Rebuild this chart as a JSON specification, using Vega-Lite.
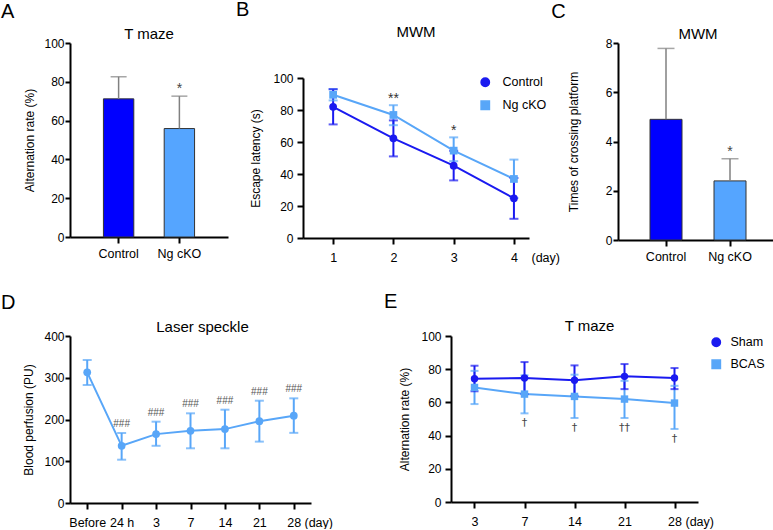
{
  "$schema": "https://vega.github.io/schema/vega-lite/v6.json",
  "padding": {"left": 0, "top": 0, "right": 0, "bottom": 0},
  "config": {
    "font": "Liberation Sans",
    "view": {"stroke": null},
    "axis": {"grid": false, "domainColor": "#000", "domainWidth": 2, "tickColor": "#000", "tickWidth": 2, "labelFontSize": 12, "labelColor": "#000", "titleFontSize": 12, "titleFontWeight": "normal", "titleColor": "#000"},
    "axisY": {"tickSize": 5, "labelPadding": 1},
    "axisX": {"tickSize": 6, "labelAngle": 0, "labelFontSize": 12.5, "labelPadding": 7},
    "title": {"fontSize": 15, "fontWeight": "normal", "color": "#000"}
  },
  "resolve": {"scale": {"color": "independent", "shape": "independent"}},
  "spacing": 28,
  "vconcat": [
    {
      "spacing": 7,
      "resolve": {"scale": {"color": "independent", "shape": "independent"}},
      "hconcat": [
        {
          "title": {"text": "A", "anchor": "start", "frame": "bounds", "fontSize": 20, "dx": -23, "offset": 5},
          "resolve": {"scale": {"color": "independent", "shape": "independent"}},
          "vconcat": [
            {
              "width": 158, "height": 194,
              "title": {"text": "T maze", "offset": -5},
              "data": {"values": [
                {"group": "Control", "mean": 71.2, "upper": 82.6, "sig": ""},
                {"group": "Ng cKO", "mean": 55.9, "upper": 72.6, "sig": "*"}
              ]},
              "encoding": {"x": {"field": "group", "type": "nominal", "sort": null, "scale": {"paddingInner": 0.5, "paddingOuter": 0.55}, "axis": {"title": null, "labelPadding": 4}}},
              "layer": [
                {"mark": {"type": "bar", "stroke": "#333", "strokeWidth": 1},
                 "encoding": {
                   "y": {"field": "mean", "type": "quantitative", "scale": {"domain": [0, 100], "nice": false}, "axis": {"title": "Alternation rate (%)", "values": [0, 20, 40, 60, 80, 100], "titlePadding": 7}},
                   "color": {"field": "group", "type": "nominal", "scale": {"domain": ["Control", "Ng cKO"], "range": ["#0000ff", "#55a5ff"]}, "legend": null}}},
                {"mark": {"type": "rule", "color": "#808080", "strokeWidth": 1.5},
                 "encoding": {"y": {"field": "mean", "type": "quantitative", "axis": {"title": "Alternation rate (%)", "values": [0, 20, 40, 60, 80, 100], "titlePadding": 7}}, "y2": {"field": "upper"}}},
                {"mark": {"type": "tick", "color": "#808080", "thickness": 1.5, "size": 16},
                 "encoding": {"y": {"field": "upper", "type": "quantitative", "axis": {"title": "Alternation rate (%)", "values": [0, 20, 40, 60, 80, 100], "titlePadding": 7}}}},
                {"mark": {"type": "text", "dy": -7, "fontSize": 14, "color": "#444", "baseline": "middle"},
                 "encoding": {"y": {"field": "upper", "type": "quantitative", "axis": {"title": "Alternation rate (%)", "values": [0, 20, 40, 60, 80, 100], "titlePadding": 7}}, "text": {"field": "sig"}}}
              ]
            }
          ]
        },
        {
          "spacing": -9,
          "resolve": {"scale": {"color": "independent", "shape": "independent"}},
          "hconcat": [
            {
              "title": {"text": "B", "anchor": "start", "frame": "bounds", "fontSize": 20, "dx": -14, "offset": 5},
              "spacing": 0,
              "resolve": {"scale": {"color": "independent", "shape": "independent"}},
              "vconcat": [
                {
                  "width": 226, "height": 29,
                  "title": {"text": "MWM", "offset": 3},
                  "data": {"values": []},
                  "mark": "point"
                },
                {
                  "width": 226, "height": 160,
                  "data": {"values": [
                    {"day": 1, "group": "Ng cKO", "mean": 89.5, "lower": 86, "upper": 93, "sig": ""},
                    {"day": 2, "group": "Ng cKO", "mean": 76.9, "lower": 70.5, "upper": 83, "sig": "**"},
                    {"day": 3, "group": "Ng cKO", "mean": 54.6, "lower": 48, "upper": 62.9, "sig": "*"},
                    {"day": 4, "group": "Ng cKO", "mean": 36.9, "lower": 25, "upper": 49, "sig": ""},
                    {"day": 1, "group": "Control", "mean": 82, "lower": 71, "upper": 93, "sig": ""},
                    {"day": 2, "group": "Control", "mean": 62.3, "lower": 51, "upper": 73.5, "sig": ""},
                    {"day": 3, "group": "Control", "mean": 45.2, "lower": 36, "upper": 54.5, "sig": ""},
                    {"day": 4, "group": "Control", "mean": 24.8, "lower": 12, "upper": 37.5, "sig": ""}
                  ]},
                  "encoding": {
                    "x": {"field": "day", "type": "quantitative", "scale": {"domain": [0.5, 4.25], "nice": false, "zero": false},
                          "axis": {"values": [1, 2, 3, 4], "format": "d", "title": "(day)", "titleX": 228, "titleY": 19, "titleAlign": "left", "titleBaseline": "middle", "titleAngle": 0, "titleFontSize": 12.5}},
                    "color": {"field": "group", "type": "nominal", "scale": {"domain": ["Control", "Ng cKO"], "range": ["#1a1af0", "#58a6f8"]},
                              "legend": {"title": null, "orient": "none", "legendX": 176, "legendY": -2, "labelOffset": 11, "rowPadding": 8, "padding": 0, "labelFontSize": 12.5, "labelColor": "#000", "symbolSize": 70, "symbolOpacity": 1}}
                  },
                  "layer": [
                    {"mark": {"type": "line", "strokeWidth": 2},
                     "encoding": {"y": {"field": "mean", "type": "quantitative", "scale": {"domain": [0, 100], "nice": false}, "axis": {"title": "Escape latency (s)", "values": [0, 20, 40, 60, 80, 100], "titlePadding": 10, "labelPadding": 4, "tickSize": 6}}}},
                    {"mark": {"type": "rule", "strokeWidth": 2},
                     "encoding": {"y": {"field": "lower", "type": "quantitative", "axis": {"title": "Escape latency (s)", "values": [0, 20, 40, 60, 80, 100], "titlePadding": 10, "labelPadding": 4, "tickSize": 6}}, "y2": {"field": "upper"}}},
                    {"mark": {"type": "tick", "orient": "horizontal", "thickness": 2, "size": 9},
                     "encoding": {"y": {"field": "upper", "type": "quantitative", "axis": {"title": "Escape latency (s)", "values": [0, 20, 40, 60, 80, 100], "titlePadding": 10, "labelPadding": 4, "tickSize": 6}}}},
                    {"mark": {"type": "tick", "orient": "horizontal", "thickness": 2, "size": 9},
                     "encoding": {"y": {"field": "lower", "type": "quantitative", "axis": {"title": "Escape latency (s)", "values": [0, 20, 40, 60, 80, 100], "titlePadding": 10, "labelPadding": 4, "tickSize": 6}}}},
                    {"mark": {"type": "point", "filled": true, "size": 60, "opacity": 1},
                     "encoding": {"y": {"field": "mean", "type": "quantitative", "axis": {"title": "Escape latency (s)", "values": [0, 20, 40, 60, 80, 100], "titlePadding": 10, "labelPadding": 4, "tickSize": 6}},
                                  "shape": {"field": "group", "type": "nominal", "scale": {"domain": ["Control", "Ng cKO"], "range": ["circle", "square"]}}}},
                    {"mark": {"type": "text", "dy": -6, "fontSize": 14, "baseline": "middle"},
                     "encoding": {"y": {"field": "upper", "type": "quantitative", "axis": {"title": "Escape latency (s)", "values": [0, 20, 40, 60, 80, 100], "titlePadding": 10, "labelPadding": 4, "tickSize": 6}}, "text": {"field": "sig"}, "color": {"value": "#333"}}}
                  ]
                }
              ]
            },
            {
              "title": {"text": "C", "anchor": "start", "frame": "bounds", "fontSize": 20, "dx": -16, "offset": 5},
              "resolve": {"scale": {"color": "independent", "shape": "independent"}},
              "vconcat": [
                {
                  "width": 160, "height": 197,
                  "title": {"text": "MWM", "offset": -8},
                  "data": {"values": [
                    {"group": "Control", "mean": 4.9, "upper": 7.78, "sig": ""},
                    {"group": "Ng cKO", "mean": 2.4, "upper": 3.3, "sig": "*"}
                  ]},
                  "encoding": {"x": {"field": "group", "type": "nominal", "sort": null, "scale": {"paddingInner": 0.5, "paddingOuter": 0.5}, "axis": {"title": null, "labelPadding": 4}}},
                  "layer": [
                    {"mark": {"type": "bar", "stroke": "#333", "strokeWidth": 1},
                     "encoding": {
                       "y": {"field": "mean", "type": "quantitative", "scale": {"domain": [0, 8], "nice": false}, "axis": {"title": "Times of crossing platform", "values": [0, 2, 4, 6, 8], "titlePadding": 25}},
                       "color": {"field": "group", "type": "nominal", "scale": {"domain": ["Control", "Ng cKO"], "range": ["#0000ff", "#55a5ff"]}, "legend": null}}},
                    {"mark": {"type": "rule", "color": "#808080", "strokeWidth": 1.5},
                     "encoding": {"y": {"field": "mean", "type": "quantitative", "axis": {"title": "Times of crossing platform", "values": [0, 2, 4, 6, 8], "titlePadding": 25}}, "y2": {"field": "upper"}}},
                    {"mark": {"type": "tick", "color": "#808080", "thickness": 1.5, "size": 17},
                     "encoding": {"y": {"field": "upper", "type": "quantitative", "axis": {"title": "Times of crossing platform", "values": [0, 2, 4, 6, 8], "titlePadding": 25}}}},
                    {"mark": {"type": "text", "dy": -7, "fontSize": 14, "color": "#444", "baseline": "middle"},
                     "encoding": {"y": {"field": "upper", "type": "quantitative", "axis": {"title": "Times of crossing platform", "values": [0, 2, 4, 6, 8], "titlePadding": 25}}, "text": {"field": "sig"}}}
                  ]
                }
              ]
            }
          ]
        }
      ]
    },
    {
      "spacing": 50,
      "resolve": {"scale": {"color": "independent", "shape": "independent"}},
      "hconcat": [
        {
          "title": {"text": "D", "anchor": "start", "frame": "bounds", "fontSize": 20, "dx": -22, "offset": 7},
          "resolve": {"scale": {"color": "independent", "shape": "independent"}},
          "vconcat": [
            {
              "width": 241, "height": 167,
              "title": {"text": "Laser speckle", "offset": -5, "dx": 12},
              "data": {"values": [
                {"time": "Before", "mean": 313, "lower": 282.6, "upper": 342.5, "sig": ""},
                {"time": "24 h", "mean": 137, "lower": 103.7, "upper": 167.7, "sig": "###"},
                {"time": "3", "mean": 165, "lower": 137, "upper": 194.8, "sig": "###"},
                {"time": "7", "mean": 173, "lower": 131, "upper": 214.8, "sig": "###"},
                {"time": "14", "mean": 177, "lower": 131, "upper": 223.5, "sig": "###"},
                {"time": "21", "mean": 196, "lower": 147, "upper": 245, "sig": "###"},
                {"time": "28", "mean": 209, "lower": 168, "upper": 250.7, "sig": "###"}
              ]},
              "encoding": {"x": {"field": "time", "type": "ordinal", "sort": null, "scale": {"type": "point", "padding": 0.5},
                                 "axis": {"title": "(day)", "titleX": 234, "titleY": 19, "titleAlign": "left", "titleBaseline": "middle", "titleAngle": 0, "titleFontSize": 12.5}}},
              "layer": [
                {"mark": {"type": "line", "strokeWidth": 2, "color": "#58a6f8"},
                 "encoding": {"y": {"field": "mean", "type": "quantitative", "scale": {"domain": [0, 400], "nice": false}, "axis": {"title": "Blood perfusion (PU)", "values": [0, 100, 200, 300, 400], "titlePadding": 8}}}},
                {"mark": {"type": "rule", "strokeWidth": 2, "color": "#58a6f8"},
                 "encoding": {"y": {"field": "lower", "type": "quantitative", "axis": {"title": "Blood perfusion (PU)", "values": [0, 100, 200, 300, 400], "titlePadding": 8}}, "y2": {"field": "upper"}}},
                {"mark": {"type": "tick", "orient": "horizontal", "thickness": 2, "size": 9, "color": "#58a6f8"},
                 "encoding": {"y": {"field": "upper", "type": "quantitative", "axis": {"title": "Blood perfusion (PU)", "values": [0, 100, 200, 300, 400], "titlePadding": 8}}}},
                {"mark": {"type": "tick", "orient": "horizontal", "thickness": 2, "size": 9, "color": "#58a6f8"},
                 "encoding": {"y": {"field": "lower", "type": "quantitative", "axis": {"title": "Blood perfusion (PU)", "values": [0, 100, 200, 300, 400], "titlePadding": 8}}}},
                {"mark": {"type": "point", "filled": true, "size": 60, "opacity": 1, "shape": "circle", "color": "#58a6f8"},
                 "encoding": {"y": {"field": "mean", "type": "quantitative", "axis": {"title": "Blood perfusion (PU)", "values": [0, 100, 200, 300, 400], "titlePadding": 8}}}},
                {"mark": {"type": "text", "dy": -9, "fontSize": 10, "color": "#555", "baseline": "middle"},
                 "encoding": {"y": {"field": "upper", "type": "quantitative", "axis": {"title": "Blood perfusion (PU)", "values": [0, 100, 200, 300, 400], "titlePadding": 8}}, "text": {"field": "sig"}}}
              ]
            }
          ]
        },
        {
          "title": {"text": "E", "anchor": "start", "frame": "bounds", "fontSize": 20, "dx": -15, "offset": 7},
          "resolve": {"scale": {"color": "independent", "shape": "independent"}},
          "vconcat": [
            {
              "width": 247, "height": 166,
              "title": {"text": "T maze", "offset": -4, "dx": 15},
              "data": {"values": [
                {"day": "3", "group": "BCAS", "mean": 69, "lower": 59, "upper": 79, "sig": ""},
                {"day": "7", "group": "BCAS", "mean": 65, "lower": 53.4, "upper": 76.3, "sig": "†"},
                {"day": "14", "group": "BCAS", "mean": 63.6, "lower": 50.6, "upper": 76.7, "sig": "†"},
                {"day": "21", "group": "BCAS", "mean": 62, "lower": 50.6, "upper": 73, "sig": "††"},
                {"day": "28", "group": "BCAS", "mean": 59.6, "lower": 44, "upper": 70, "sig": "†"},
                {"day": "3", "group": "Sham", "mean": 74.3, "lower": 66.7, "upper": 82.1, "sig": ""},
                {"day": "7", "group": "Sham", "mean": 74.7, "lower": 65, "upper": 84.3, "sig": ""},
                {"day": "14", "group": "Sham", "mean": 73.3, "lower": 64, "upper": 82.3, "sig": ""},
                {"day": "21", "group": "Sham", "mean": 75.7, "lower": 68, "upper": 83.1, "sig": ""},
                {"day": "28", "group": "Sham", "mean": 74.7, "lower": 68, "upper": 80.7, "sig": ""}
              ]},
              "encoding": {
                "x": {"field": "day", "type": "ordinal", "sort": ["3", "7", "14", "21", "28"], "scale": {"type": "point", "padding": 0.47},
                      "axis": {"title": "(day)", "titleX": 234, "titleY": 19, "titleAlign": "left", "titleBaseline": "middle", "titleAngle": 0, "titleFontSize": 12.5}},
                "color": {"field": "group", "type": "nominal", "scale": {"domain": ["Sham", "BCAS"], "range": ["#1a1af0", "#58a6f8"]},
                          "legend": {"title": null, "orient": "none", "legendX": 259, "legendY": 0, "labelOffset": 8, "rowPadding": 7, "padding": 0, "labelFontSize": 12.5, "labelColor": "#000", "symbolSize": 70, "symbolOpacity": 1}}
              },
              "layer": [
                {"mark": {"type": "line", "strokeWidth": 2},
                 "encoding": {"y": {"field": "mean", "type": "quantitative", "scale": {"domain": [0, 100], "nice": false}, "axis": {"title": "Alternation rate (%)", "values": [0, 20, 40, 60, 80, 100], "titlePadding": 9, "labelPadding": 4, "tickSize": 6}}}},
                {"mark": {"type": "rule", "strokeWidth": 2},
                 "encoding": {"y": {"field": "lower", "type": "quantitative", "axis": {"title": "Alternation rate (%)", "values": [0, 20, 40, 60, 80, 100], "titlePadding": 9, "labelPadding": 4, "tickSize": 6}}, "y2": {"field": "upper"}}},
                {"mark": {"type": "tick", "orient": "horizontal", "thickness": 2, "size": 8},
                 "encoding": {"y": {"field": "upper", "type": "quantitative", "axis": {"title": "Alternation rate (%)", "values": [0, 20, 40, 60, 80, 100], "titlePadding": 9, "labelPadding": 4, "tickSize": 6}}}},
                {"mark": {"type": "tick", "orient": "horizontal", "thickness": 2, "size": 8},
                 "encoding": {"y": {"field": "lower", "type": "quantitative", "axis": {"title": "Alternation rate (%)", "values": [0, 20, 40, 60, 80, 100], "titlePadding": 9, "labelPadding": 4, "tickSize": 6}}}},
                {"mark": {"type": "point", "filled": true, "size": 55, "opacity": 1},
                 "encoding": {"y": {"field": "mean", "type": "quantitative", "axis": {"title": "Alternation rate (%)", "values": [0, 20, 40, 60, 80, 100], "titlePadding": 9, "labelPadding": 4, "tickSize": 6}},
                              "shape": {"field": "group", "type": "nominal", "scale": {"domain": ["Sham", "BCAS"], "range": ["circle", "square"]}}}},
                {"mark": {"type": "text", "dy": 10, "fontSize": 11, "baseline": "middle", "font": "DejaVu Sans"},
                 "encoding": {"y": {"field": "lower", "type": "quantitative", "axis": {"title": "Alternation rate (%)", "values": [0, 20, 40, 60, 80, 100], "titlePadding": 9, "labelPadding": 4, "tickSize": 6}}, "text": {"field": "sig"}, "color": {"value": "#444"}}}
              ]
            }
          ]
        }
      ]
    }
  ]
}
